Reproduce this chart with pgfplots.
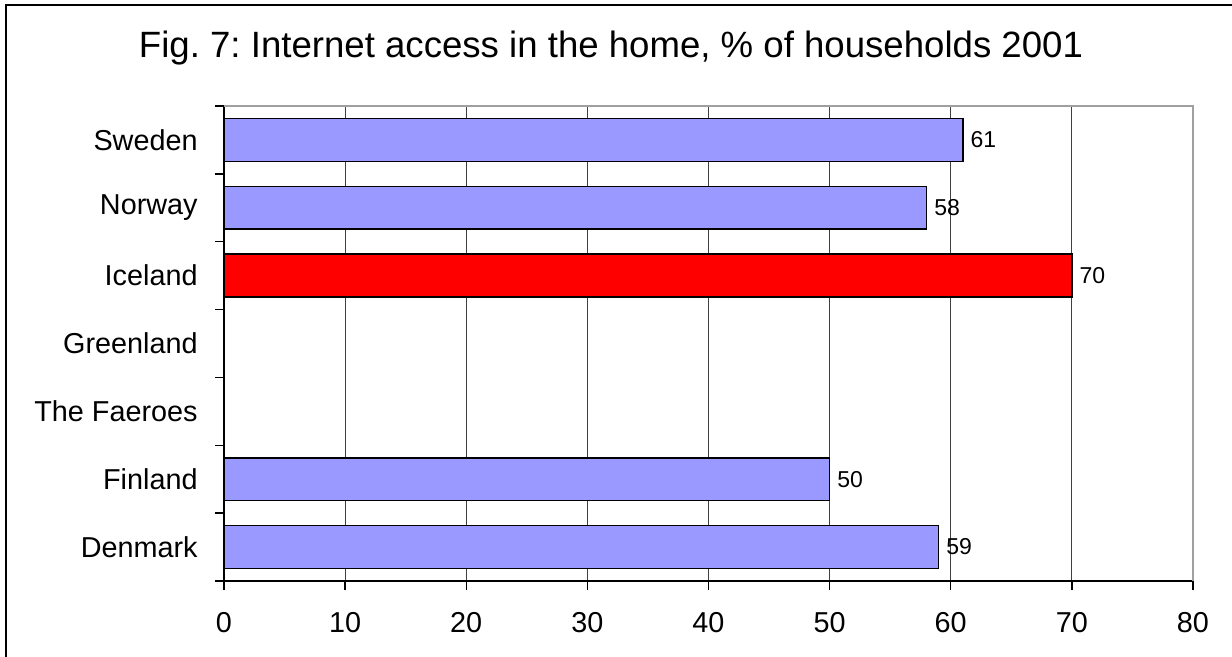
\documentclass[border=0pt]{standalone}
\usepackage{pgfplots}
\pgfplotsset{compat=1.18}
\usepackage{fontspec}
\setmainfont{Liberation Sans}
\definecolor{barblue}{HTML}{9999FF}
\definecolor{framegrey}{HTML}{A0A0A0}
\definecolor{gridgrey}{HTML}{404040}
\begin{document}
\frenchspacing
\begin{tikzpicture}
\useasboundingbox (0,0) rectangle (616pt,328.5pt);
\draw[line width=0.8pt] (3pt,0) -- (3pt,326pt) -- (616pt,326pt);
\node[anchor=base, inner sep=0pt, font=\fontsize{18.3}{21}\selectfont] at (305.5pt,299.5pt) {Fig. 7: Internet access in the home, \% of households 2001};
\begin{axis}[
  at={(112pt,38pt)}, anchor=south west,
  scale only axis,
  width=484.5pt, height=237.5pt,
  xbar, bar shift=0pt, bar width=0.632,
  xmin=0, xmax=80, ymin=-0.5, ymax=6.5,
  axis x line*=bottom, axis y line*=left,
  axis line style={-, line width=0.7pt, black},
  xtick={0,10,...,80},
  xmajorgrids, ymajorgrids=false, major grid style={gridgrey, line width=0.5pt},
  ytick={-0.5,0.5,...,6.5},
  y tick label as interval,
  yticklabels={Denmark,Finland,The Faeroes,Greenland,Iceland,Norway,Sweden},
  tick align=outside, major tick length=4.5pt,
  tick style={black, line width=0.7pt},
  /pgf/number format/assume math mode=true,
  ticklabel style={font=\fontsize{14.4}{17}\selectfont},
  xticklabel style={inner sep=0pt, anchor=north, yshift=-11pt},
  yticklabel style={inner sep=0pt, anchor=east, xshift=-8.5pt},
  nodes near coords,
  every node near coord/.append style={font=\fontsize{11.5}{13}\selectfont, black, anchor=west, inner sep=2pt, xshift=1.5pt},
  clip=false,
]
\addplot[fill=barblue, draw=black, line width=0.75pt] coordinates {(61,6) (58,5) (50,1) (59,0)};
\addplot[fill=red, draw=black, line width=0.75pt] coordinates {(70,4)};
\draw[framegrey, line width=0.8pt] (rel axis cs:0,1) -- (rel axis cs:1,1) -- (rel axis cs:1,0);
\end{axis}
\end{tikzpicture}
\end{document}
